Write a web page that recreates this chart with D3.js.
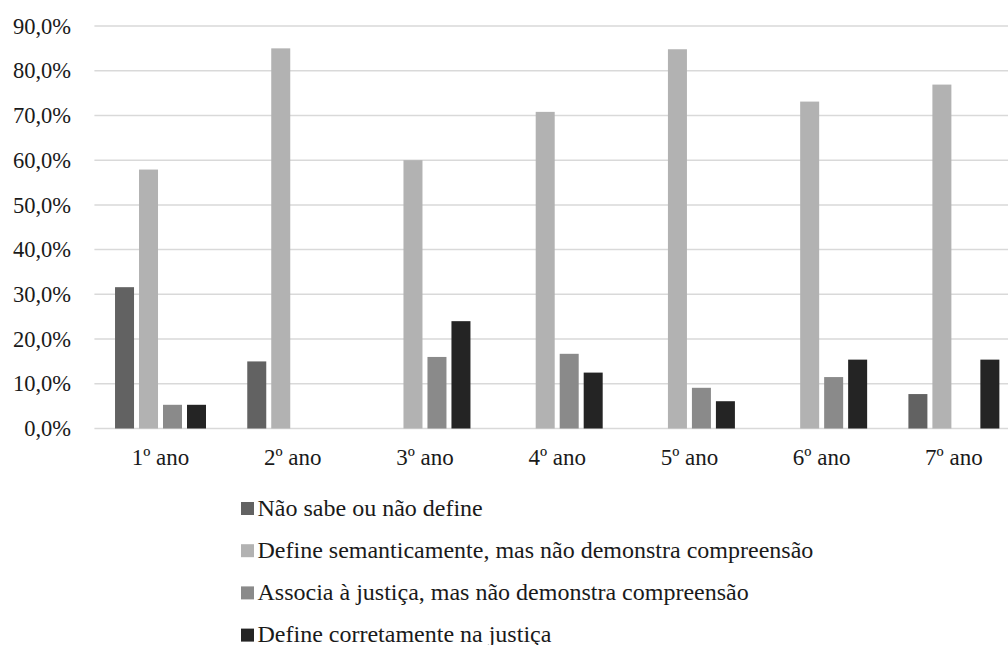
<!DOCTYPE html>
<html>
<head>
<meta charset="utf-8">
<script src="https://cdn.jsdelivr.net/npm/d3@7"></script>
<style>
  body { margin: 0; background: #fff; }
</style>
</head>
<body>
<div id="chart"></div>
<script>
// ----------- Data ----------
var categories = ["1º ano", "2º ano", "3º ano", "4º ano", "5º ano", "6º ano", "7º ano"];
var seriesNames = [
  "Não sabe ou não define",
  "Define semanticamente, mas não demonstra compreensão",
  "Associa à justiça, mas não demonstra compreensão",
  "Define corretamente na justiça"
];
var naoSabe      = [0.316, 0.150, 0,     0,     0,     0,     0.077];
var semantica    = [0.579, 0.850, 0.600, 0.708, 0.848, 0.731, 0.769];
var associa      = [0.053, 0,     0.160, 0.167, 0.091, 0.115, 0];
var corretamente = [0.053, 0,     0.240, 0.125, 0.061, 0.154, 0.154];
var yTicks = [0, 0.1, 0.2, 0.3, 0.4, 0.5, 0.6, 0.7, 0.8, 0.9];
var colors = ["#626262", "#b2b2b2", "#8a8a8a", "#242424"];

var allSeries = [naoSabe, semantica, associa, corretamente];
var fontStack = "'Liberation Serif', 'Times New Roman', serif";

var width = 1008, height = 645;
var svg = d3.select("#chart").append("svg")
  .attr("width", width)
  .attr("height", height);

// ----------- Scales ----------
var x = d3.scaleBand()
  .domain(categories)
  .range([94.4, 1020])
  .paddingInner(0.312)
  .paddingOuter(0.156);

var xs = d3.scaleBand()
  .domain(d3.range(seriesNames.length))
  .range([0, x.bandwidth()])
  .paddingInner(0.208);

var y = d3.scaleLinear()
  .domain([0, 0.9])
  .range([428.5, 26]);

var ptBR = d3.formatLocale({ decimal: ",", thousands: ".", grouping: [3], currency: ["R$", ""] });
var fmt = ptBR.format(".1%");

// ----------- Gridlines ----------
svg.append("g")
  .selectAll("line")
  .data(yTicks)
  .enter().append("line")
  .attr("x1", 94.4)
  .attr("x2", 1020)
  .attr("y1", function(d) { return y(d); })
  .attr("y2", function(d) { return y(d); })
  .attr("stroke", "#d9d9d9")
  .attr("stroke-width", 1.5);

// ----------- Y labels ----------
svg.append("g")
  .selectAll("text")
  .data(yTicks)
  .enter().append("text")
  .attr("x", 71)
  .attr("y", function(d) { return y(d); })
  .attr("dy", "0.34em")
  .attr("text-anchor", "end")
  .style("font-family", fontStack)
  .style("font-size", "22.5px")
  .style("fill", "#1a1a1a")
  .text(function(d) { return fmt(d); });

// ----------- Bars ----------
var groups = svg.append("g")
  .selectAll("g")
  .data(categories)
  .enter().append("g")
  .attr("transform", function(d) { return "translate(" + x(d) + ",0)"; });

groups.selectAll("rect")
  .data(function(d, i) {
    return allSeries.map(function(s, k) { return { k: k, v: s[i] }; });
  })
  .enter().append("rect")
  .filter(function(d) { return d.v > 0; })
  .attr("x", function(d) { return xs(d.k); })
  .attr("y", function(d) { return y(d.v); })
  .attr("width", xs.bandwidth())
  .attr("height", function(d) { return y(0) - y(d.v); })
  .attr("fill", function(d) { return colors[d.k]; });

// ----------- X labels ----------
svg.append("g")
  .selectAll("text")
  .data(categories)
  .enter().append("text")
  .attr("x", function(d) { return x(d) + x.bandwidth() / 2; })
  .attr("y", 464.5)
  .attr("text-anchor", "middle")
  .style("font-family", fontStack)
  .style("font-size", "23px")
  .style("fill", "#1a1a1a")
  .text(function(d) { return d; });

// ----------- Legend ----------
var legend = svg.append("g")
  .selectAll("g")
  .data(seriesNames)
  .enter().append("g")
  .attr("transform", function(d, i) { return "translate(241," + (502 + i * 42.2) + ")"; });

legend.append("rect")
  .attr("width", 13)
  .attr("height", 13)
  .attr("fill", function(d, i) { return colors[i]; });

legend.append("text")
  .attr("x", 16.5)
  .attr("y", 13.5)
  .style("font-family", fontStack)
  .style("font-size", "24px")
  .style("fill", "#1a1a1a")
  .text(function(d) { return d; });
</script>
</body>
</html>
